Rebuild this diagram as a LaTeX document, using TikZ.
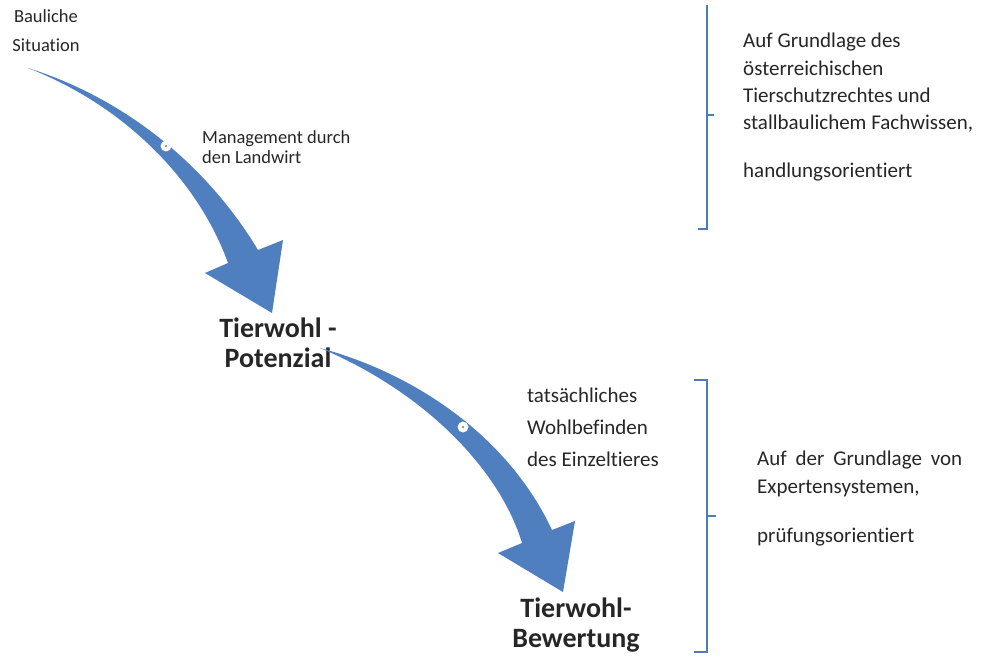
\documentclass[tikz,border=0pt]{standalone}
\usepackage{fontspec}
\setmainfont[Ligatures=NoCommon]{Carlito}
\definecolor{arrowblue}{HTML}{4F7FBE}
\definecolor{braceblue}{HTML}{4A7EBB}
\definecolor{txt}{HTML}{262626}
\begin{document}
\begin{tikzpicture}[x=1pt,y=-1pt,
  small/.style={text=txt,inner sep=0pt,font=\fontsize{18.5}{22}\selectfont},
  mid/.style={text=txt,inner sep=0pt,anchor=base west,font=\fontsize{21}{25}\selectfont},
  big/.style={text=txt,inner sep=0pt,anchor=base,font=\fontsize{28}{30}\selectfont\bfseries},
  flow/.style={fill=arrowblue,draw=none},
  knob/.style={circle,fill=white,minimum size=11pt,inner sep=0pt},
  knobdot/.style={circle,fill=arrowblue,minimum size=2.2pt,inner sep=0pt},
  bracket/.style={draw=braceblue,line width=1.4pt}]
\useasboundingbox (0,0) rectangle (981,657);

% texts
\node[small,anchor=base] (b1) at (46,22) {Bauliche};
\node[small,anchor=base] (b2) at (46,51) {Situation};
\node[small,anchor=base west] (m1) at (202,143) {Management durch};
\node[small,anchor=base west] (m2) at (202,163) {den Landwirt};
\node[big] (p1) at (278,337) {Tierwohl -};
\node[big] (p2) at (278,367) {Potenzial};
\node[mid] (w1) at (527,402) {tatsächliches};
\node[mid] (w2) at (527,434) {Wohlbefinden};
\node[mid] (w3) at (527,466) {des Einzeltieres};
\node[big] (e1) at (576,617) {Tierwohl-};
\node[big] (e2) at (576,647) {Bewertung};
\node[mid] (r1) at (743,47) {Auf Grundlage des};
\node[mid] (r2) at (743,75) {österreichischen};
\node[mid] (r3) at (743,102) {Tierschutzrechtes und};
\node[mid] (r4) at (743,129) {stallbaulichem Fachwissen,};
\node[mid] (r5) at (743,177) {handlungsorientiert};
\node[mid] (s1) at (757,465) {\makebox[205pt][s]{Auf der Grundlage von}};
\node[mid] (s2) at (757,493) {Expertensystemen,};
\node[mid] (s3) at (757,542) {prüfungsorientiert};

% arrow 1
\coordinate (a1tail) at (28,68);
\coordinate (a1up) at (258,250);
\coordinate (a1br) at (283,240);
\coordinate (a1tip) at (272,313);
\coordinate (a1bl) at (205,273);
\coordinate (a1low) at (228,263);
\fill[flow] (a1tail) .. controls (130,100) and (210,170) .. (a1up)
  -- (a1br) -- (a1tip) -- (a1bl) -- (a1low)
  .. controls (200,185) and (130,108) .. (a1tail) -- cycle;
\node[knob] (k1) at (166,146) {};
\node[knobdot] (k1d) at (k1) {};

% arrow 2
\coordinate (a2tail) at (320,348);
\coordinate (a2up) at (552,530);
\coordinate (a2br) at (575,521);
\coordinate (a2tip) at (563,592);
\coordinate (a2bl) at (498,553);
\coordinate (a2low) at (522,543);
\fill[flow] (a2tail) .. controls (420,375) and (510,440) .. (a2up)
  -- (a2br) -- (a2tip) -- (a2bl) -- (a2low)
  .. controls (500,470) and (425,392) .. (a2tail) -- cycle;
\node[knob] (k2) at (463,427) {};
\node[knobdot] (k2d) at (k2) {};

% brackets
\coordinate (u0) at (707,5);
\coordinate (u1) at (707,229);
\coordinate (u2) at (698,229);
\coordinate (um) at (707,115);
\coordinate (umt) at (714,115);
\draw[bracket] (u0) -- (u1) -- (u2);
\draw[bracket] (um) -- (umt);

\coordinate (l0) at (694,380);
\coordinate (l1) at (707,380);
\coordinate (l2) at (707,652);
\coordinate (l3) at (694,652);
\coordinate (lm) at (707,516);
\coordinate (lmt) at (716,516);
\draw[bracket] (l0) -- (l1) -- (l2) -- (l3);
\draw[bracket] (lm) -- (lmt);
\end{tikzpicture}
\end{document}
